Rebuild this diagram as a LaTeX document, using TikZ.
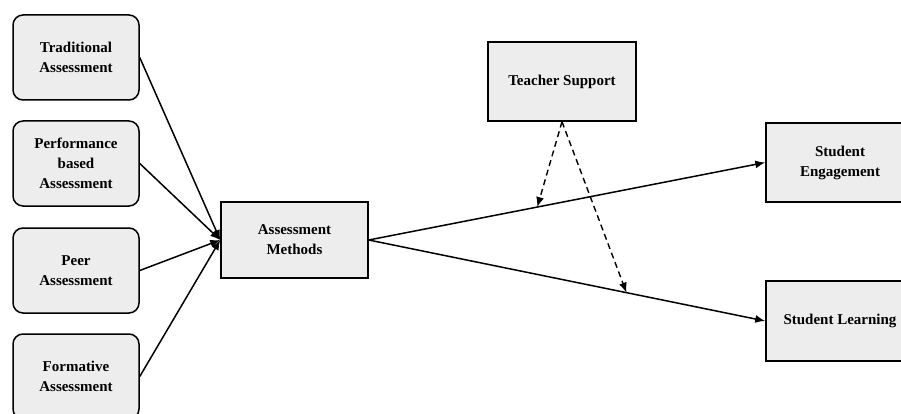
\documentclass[tikz,border=0pt]{standalone}
\usepackage{fontspec}
\setmainfont{Liberation Serif}
\usetikzlibrary{arrows.meta,calc}
\begin{document}
\begin{tikzpicture}[x=1pt,y=-1pt,
  every node/.style={font=\fontsize{15}{20}\selectfont\bfseries, align=center, inner sep=0pt},
  rbox/.style={draw=black, fill=black!7, line width=1.5pt, rounded corners=10pt, minimum width=126pt, minimum height=85pt},
  sbox/.style={draw=black, fill=black!7, line width=1.5pt, minimum height=79pt},
  conn/.style={line width=1.5pt, -{Latex[length=10pt,width=8pt]}},
  dconn/.style={line width=1.4pt, dash pattern=on 6pt off 4pt, -{Latex[length=10pt,width=8pt]}}
]
\useasboundingbox (0,0) rectangle (901,414);
\node[rbox] (ta) at (76,57.5) {Traditional\\Assessment};
\node[rbox] (pb) at (76,163.5) {Performance\\based\\Assessment};
\node[rbox] (pa) at (76,270.5) {Peer\\Assessment};
\node[rbox] (fa) at (76,376.5) {Formative\\Assessment};
\node[sbox, minimum width=147pt, minimum height=76pt] (am) at (294.5,240) {Assessment\\Methods};
\node[sbox, minimum width=148pt] (ts) at (562,81.5) {Teacher Support};
\node[sbox, minimum width=148pt] (se) at (840,162.5) {Student\\Engagement};
\node[sbox, minimum width=148pt, minimum height=80pt] (sl) at (840,321) {Student Learning};
\draw[conn] (ta.east) -- (am.west);
\draw[conn] (pb.east) -- (am.west);
\draw[conn] (pa.east) -- (am.west);
\draw[conn] (fa.east) -- (am.west);
\draw[conn] (am.east) -- (se.west);
\draw[conn] (am.east) -- (sl.west);
\coordinate (m1) at ($(am.east)!0.425!(se.west)$);
\coordinate (m2) at ($(am.east)!0.65!(sl.west)$);
\draw[dconn] (ts.south) -- (m1);
\draw[dconn] (ts.south) -- (m2);
\end{tikzpicture}
\end{document}
